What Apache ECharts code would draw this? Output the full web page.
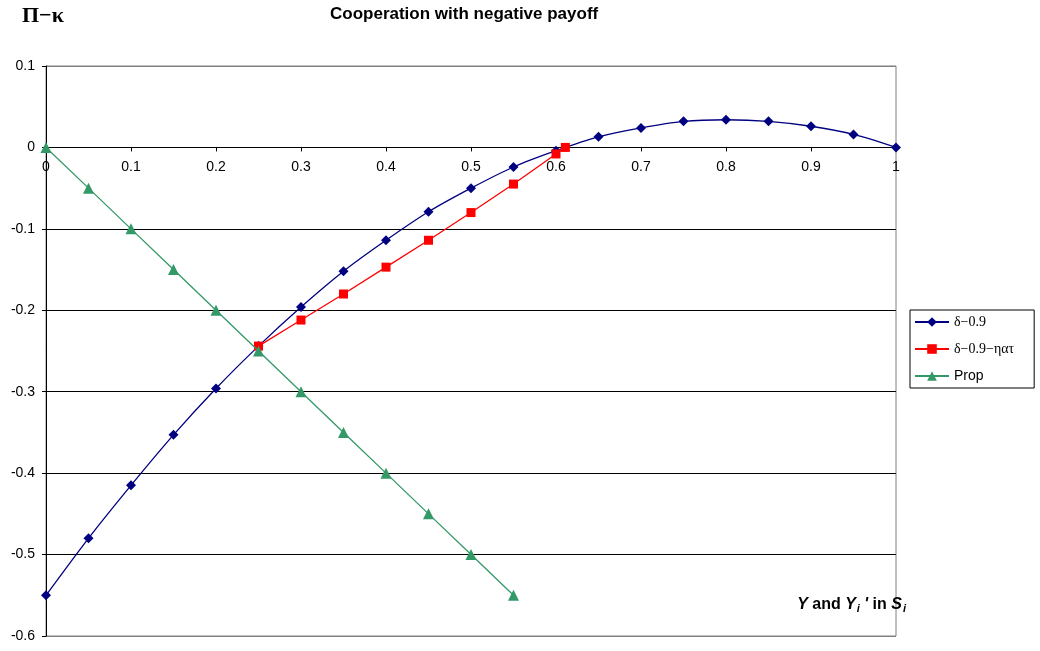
<!DOCTYPE html>
<html><head><meta charset="utf-8">
<script src="https://cdn.jsdelivr.net/npm/echarts@6/dist/echarts.min.js"></script>
<style>html,body{margin:0;padding:0;background:#fff}#c{width:1040px;height:651px}</style>
</head><body><div id="c"></div>
<script>
const xVals = [0,0.05,0.1,0.15,0.2,0.25,0.3,0.35,0.4,0.45,0.5,0.55,0.6,0.65,0.7,0.75,0.8,0.85,0.9,0.95,1.0];
const deltaVals = [-0.55,-0.480,-0.415,-0.353,-0.296,-0.244,-0.196,-0.152,-0.114,-0.079,-0.050,-0.024,-0.004,0.013,0.024,0.032,0.034,0.032,0.026,0.016,0];
const etaX = [0.25,0.3,0.35,0.4,0.45,0.5,0.55,0.6,0.611];
const etaVals = [-0.244,-0.212,-0.180,-0.147,-0.114,-0.080,-0.045,-0.008,0];
const propX = [0,0.05,0.1,0.15,0.2,0.25,0.3,0.35,0.4,0.45,0.5,0.55];
const propVals = [0,-0.05,-0.1,-0.15,-0.2,-0.25,-0.3,-0.35,-0.4,-0.45,-0.5,-0.55];
const seriesNames = ['δ−0.9','δ−0.9−ηατ','Prop'];
const titleText = 'Cooperation with negative payoff';

const zip = (xs, ys) => xs.map((x, i) => [x, ys[i]]);
const Y_MIN = -0.6, Y_MAX = 0.1;
const plotTop = 66, plotBottom = 15, plotH = 651 - plotTop - plotBottom;
const zeroGridH = plotH * (Y_MAX - 0) / (Y_MAX - Y_MIN);

const chart = echarts.init(document.getElementById('c'));
chart.setOption({
  animation: false,
  title: {text: titleText, left: 325, top: 1,
    textStyle: {fontFamily: 'Liberation Sans, Arial', fontSize: 17, fontWeight: 'bold', color: '#000'}},
  grid: [
    {left: 46, right: 144, top: plotTop, bottom: plotBottom, show: true, borderColor: '#808080', borderWidth: 1,
      backgroundColor: 'transparent', outerBoundsMode: 'none', containLabel: false},
    {left: 46, right: 144, top: plotTop, height: zeroGridH, show: false, outerBoundsMode: 'none', containLabel: false}
  ],
  legend: {
    orient: 'vertical', left: 910, top: 310, width: 110,
    borderColor: '#000', borderWidth: 1, padding: [5, 20, 5, 4],
    itemWidth: 34, itemHeight: 12, itemGap: 13,
    data: seriesNames,
    formatter: n => n === 'Prop' ? '{a|' + n + '}' : '{s|' + n + '}',
    textStyle: {color: '#000', rich: {
      a: {fontFamily: 'Liberation Sans, Arial', fontSize: 14, color: '#000'},
      s: {fontFamily: 'Liberation Serif, Times New Roman', fontSize: 14, color: '#000'}}}
  },
  xAxis: [
    {type: 'value', gridIndex: 0, min: 0, max: 1, interval: 0.1,
      axisLine: {onZero: true, lineStyle: {color: '#000', width: 1}},
      axisTick: {show: false}, axisLabel: {show: false}, splitLine: {show: false}},
    {type: 'value', gridIndex: 1, min: 0, max: 1, interval: 0.1, position: 'bottom',
      axisLine: {show: false, onZero: false},
      axisTick: {show: true, length: 4, lineStyle: {color: '#000'}},
      axisLabel: {margin: 13, color: '#000', fontFamily: 'Liberation Sans, Arial', fontSize: 14},
      splitLine: {show: false}}
  ],
  yAxis: [
    {type: 'value', gridIndex: 0, min: Y_MIN, max: Y_MAX, interval: 0.1,
      axisLine: {show: true, onZero: false, lineStyle: {color: '#000', width: 1}},
      axisTick: {show: true, length: 4, lineStyle: {color: '#000'}},
      axisLabel: {margin: 11, color: '#000', fontFamily: 'Liberation Sans, Arial', fontSize: 14,
        formatter: v => String(Math.round(v * 10) / 10)},
      splitLine: {show: true, lineStyle: {color: ['#808080','#000','#000','#000','#000','#000','#000','#808080'], width: 1}}},
    {type: 'value', gridIndex: 1, min: 0, max: Y_MAX, show: false}
  ],
  graphic: [
    {type: 'text', left: 22, top: 5, style: {text: 'Π−κ', font: 'bold 22px "Liberation Serif", "Times New Roman", serif', fill: '#000'}},
    {type: 'text', x: 906, y: 596, style: {
      text: '{i|Y}{b| and }{i|Y}{sub|i}{i| \'}{b| in }{i|S}{sub|i}', textAlign: 'right', fill: '#000',
      rich: {
        i: {font: 'italic bold 16px "Liberation Sans", Arial', fill: '#000'},
        b: {font: 'bold 16px "Liberation Sans", Arial', fill: '#000'},
        sub: {font: 'italic bold 11px "Liberation Sans", Arial', fill: '#000', verticalAlign: 'bottom', padding: [7, 0, 0, 1]}
      }}}
  ],
  series: [
    {name: seriesNames[0], type: 'line', xAxisIndex: 0, yAxisIndex: 0, data: zip(xVals, deltaVals), smooth: 0.3,
      symbol: 'diamond', symbolSize: 10, color: '#000080', lineStyle: {color: '#000080', width: 1.3}, z: 3},
    {name: seriesNames[1], type: 'line', xAxisIndex: 0, yAxisIndex: 0, data: zip(etaX, etaVals),
      symbol: 'rect', symbolSize: 9, color: '#FF0000', lineStyle: {color: '#FF0000', width: 1.3}, z: 4},
    {name: seriesNames[2], type: 'line', xAxisIndex: 0, yAxisIndex: 0, data: zip(propX, propVals),
      symbol: 'triangle', symbolSize: 11, color: '#339966', lineStyle: {color: '#339966', width: 1.3}, z: 5}
  ]
});
</script></body></html>
